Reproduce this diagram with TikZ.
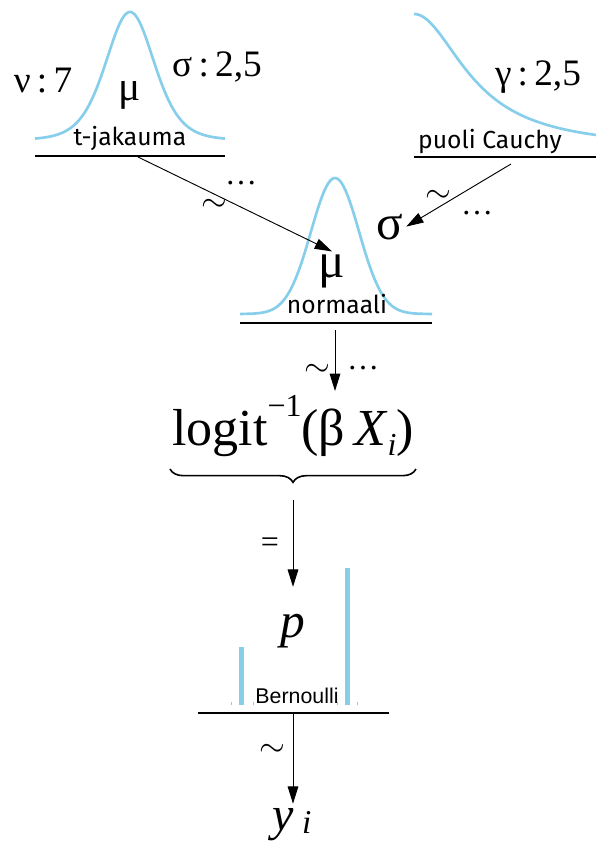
\documentclass[tikz,border=0pt]{standalone}
\usepackage{fontspec}
\setmainfont{Liberation Serif}
\newfontfamily\labfont{Fira Sans}
\newfontfamily\bernfont{Liberation Sans}
\usetikzlibrary{arrows.meta,decorations.pathreplacing}
\definecolor{dens}{RGB}{135,206,235}
\tikzset{
  density/.style={dens,line width=2pt},
  baseln/.style={line width=1.1pt},
  arr/.style={-{Triangle[length=13pt,width=8pt]},line width=0.7pt},
  par/.style={anchor=base,inner sep=0pt,font=\fontsize{28}{30}\selectfont},
  var/.style={anchor=base,inner sep=2pt,font=\fontsize{37}{40}\selectfont},
  distname/.style={anchor=base,inner sep=0pt,font=\labfont\fontsize{18.5}{20}\selectfont},
  rel/.style={inner sep=0pt,font=\fontsize{24}{26}\selectfont}
}
\begin{document}
\begin{tikzpicture}[x=0.75pt,y=-0.75pt]
  \useasboundingbox (0,0) rectangle (596,845);
  % t-jakauma
  \draw[density] plot[domain=35:225,samples=90] (\x,{140-128*(1+((\x-130)/25)^2/7)^(-4)});
  \draw[baseln] (35,156) -- (225,156);
  \node[par] (nu) at (43,93) {ν\,:\,7};
  \node[par,font=\fontsize{31}{33}\selectfont] (muT) at (130,101) {μ};
  \node[par] (sigT) at (217,77) {σ\,:\,2,5};
  \node[distname] (tname) at (130,146) {t-jakauma};
  \coordinate (tout) at (138,157);
  % puoli Cauchy
  \draw[density] plot[domain=414:596,samples=80] (\x,{14+135*(1-1/(1+((\x-414)/62)^2))});
  \draw[baseln] (414,157) -- (596,157);
  \node[par] (gam) at (538,86) {γ\,:\,2,5};
  \node[distname] (cname) at (490,148) {puoli Cauchy};
  \coordinate (cout) at (511,164);
  % normaali
  \draw[density] plot[domain=240:432,samples=90] (\x,{314-136*exp(-((\x-335)/24)^2/2)});
  \draw[baseln] (240,323) -- (432,323);
  \node[var] (muN) at (332,277) {μ};
  \node[var] (sigN) at (390,239) {σ};
  \node[distname] (nname) at (337,313) {normaali};
  \coordinate (nout) at (335,330);
  \draw[arr] (tout) -- (muN.north);
  \node[rel] (s1) at (214,205) {$\sim$};
  \node[rel] (d1) at (241,183) {…};
  \draw[arr] (cout) -- (sigN.east);
  \node[rel] (s2) at (438,196) {$\sim$};
  \node[rel] (d2) at (477,213) {…};
  % linkki
  \node[anchor=base,inner sep=3pt,font=\fontsize{39}{42}\selectfont] (logit) at (293,445)
    {logit\raisebox{0.55em}{\fontsize{24}{26}\selectfont −1}(β\,\textit{X}\raisebox{-0.2em}{\fontsize{24}{26}\selectfont\textit{i}})};
  \draw[arr] (nout) -- (nout |- logit.north);
  \node[rel] (s3) at (317,370) {$\sim$};
  \node[rel] (d3) at (363,368) {…};
  \draw[decorate,decoration={brace,mirror,amplitude=10pt},line width=1.2pt] (170,469) -- (416,469);
  \coordinate (btip) at (293,500);
  \node[anchor=base,inner sep=3pt,font=\fontsize{37}{40}\selectfont] (p) at (293,637) {\textit{p}};
  \draw[arr,shorten >=17pt] (btip) -- (p);
  \node[rel] (eq) at (270,545) {=};
  % Bernoulli
  \fill[dens] (238.5,647) rectangle (243.5,705);
  \fill[dens] (344.5,568) rectangle (349.5,705);
  \foreach \x in {231,253,337,357}
    \draw[dens,line width=0.4pt] (\x,702) -- (\x,705);
  \node[anchor=base,inner sep=0pt,font=\bernfont\fontsize{16}{18}\selectfont] (bern) at (297,703) {Bernoulli};
  \draw[baseln] (198,713) -- (389,713);
  \coordinate (bout) at (293,713);
  \node[anchor=base,inner sep=3pt,font=\fontsize{36}{40}\selectfont] (y) at (292,830)
    {\textit{y}\,\raisebox{-0.08em}{\fontsize{25}{27}\selectfont\textit{i}}};
  \draw[arr] (bout) -- (bout |- y.north);
  \node[rel] (s4) at (272,750) {$\sim$};
\end{tikzpicture}
\end{document}
